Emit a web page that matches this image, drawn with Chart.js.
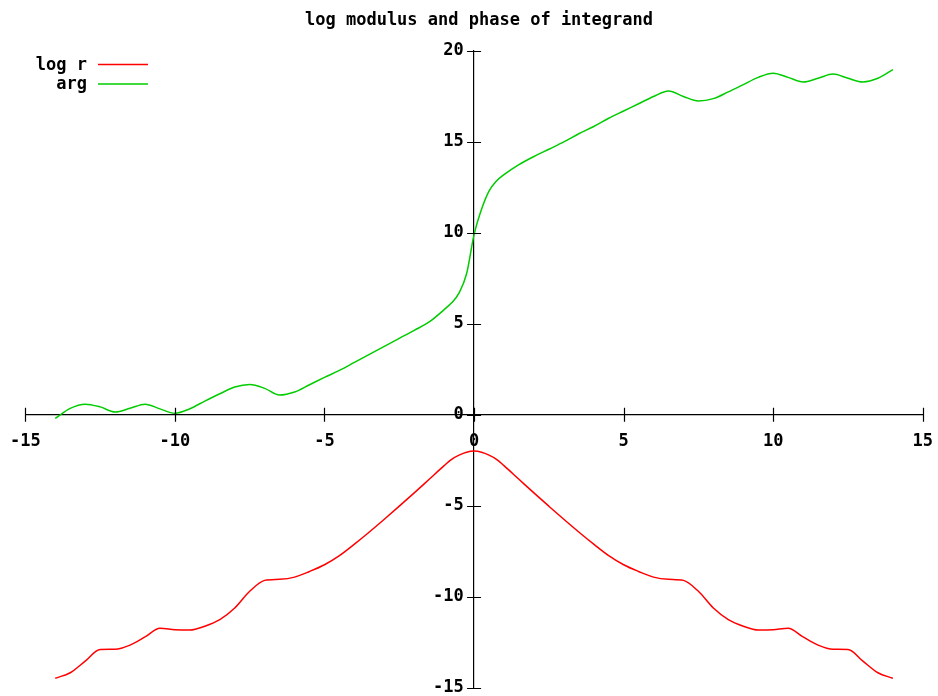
<!DOCTYPE html>
<html>
<head>
<meta charset="utf-8">
<script src="https://cdn.jsdelivr.net/npm/chart.js@4/dist/chart.umd.min.js"></script>
<style>
  html, body { margin: 0; padding: 0; background: #fff; overflow: hidden; }
  #wrap { width: 959px; height: 699px; margin-left: -8px; }
</style>
</head>
<body>
<div id="wrap"><canvas id="chart"></canvas></div>
<script>
// x positions shared by both curves
const xs = [-14, -13.5, -13, -12.5, -12, -11.5, -11, -10.5, -10, -9.5, -9, -8.5, -8, -7.5, -7, -6.5,
  -6, -5.5, -5, -4.5, -4, -3.5, -3, -2.5, -2, -1.5, -1, -0.75, -0.5, -0.25, 0,
  0.25, 0.5, 0.75, 1, 1.5, 2, 2.5, 3, 3.5, 4, 4.5, 5, 5.5, 6, 6.5, 7, 7.5, 8, 8.5,
  9, 9.5, 10, 10.5, 11, 11.5, 12, 12.5, 13, 13.5, 14];

// log r
const logR = [-14.49, -14.19, -13.55, -12.91, -12.9, -12.67, -12.22, -11.74, -11.82, -11.84, -11.63, -11.27, -10.63, -9.71, -9.11, -9.05,
  -8.93, -8.62, -8.25, -7.75, -7.12, -6.45, -5.75, -5.03, -4.3, -3.55, -2.8, -2.45, -2.22, -2.06, -2.0,
  -2.06, -2.22, -2.45, -2.8, -3.55, -4.3, -5.03, -5.75, -6.45, -7.12, -7.75, -8.25, -8.62, -8.93, -9.05, -9.11, -9.71, -10.63, -11.27,
  -11.63, -11.84, -11.82, -11.74, -12.22, -12.67, -12.9, -12.91, -13.55, -14.19, -14.49];

// arg
const argV = [-0.2, 0.35, 0.58, 0.43, 0.15, 0.35, 0.58, 0.32, 0.08, 0.33, 0.75, 1.15, 1.52, 1.66, 1.45, 1.08,
  1.25, 1.65, 2.05, 2.44, 2.88, 3.32, 3.76, 4.2, 4.64, 5.1, 5.78, 6.15, 6.7, 7.75, 9.9,
  11.3, 12.3, 12.85, 13.2, 13.75, 14.2, 14.6, 15.0, 15.45, 15.85, 16.3, 16.7, 17.1, 17.5, 17.8, 17.5, 17.25, 17.38, 17.75,
  18.15, 18.55, 18.78, 18.55, 18.3, 18.5, 18.73, 18.5, 18.3, 18.5, 18.98];

const seriesNames = ['log r', 'arg'];
const seriesColors = ['#ff0000', '#00cc00'];

const FONT = { family: "'DejaVu Sans Mono', 'Liberation Mono', monospace", size: 17, weight: 'bold', lineHeight: 1 };

function pts(ys) {
  return xs.map((x, i) => ({ x: x, y: ys[i] }));
}

// gnuplot style tick crosses and key in the top left corner
const gnuplotBits = {
  id: 'gnuplotBits',
  afterDraw(chart) {
    const ctx = chart.ctx;
    const sx = chart.scales.x, sy = chart.scales.y;
    const x0 = sx.getPixelForValue(0), y0 = sy.getPixelForValue(0);
    ctx.save();
    ctx.strokeStyle = '#000';
    ctx.lineWidth = 1.2;
    ctx.beginPath();
    sx.ticks.forEach(t => {
      const p = Math.round(sx.getPixelForValue(t.value)) + 0.5;
      ctx.moveTo(p, y0 - 7); ctx.lineTo(p, y0 + 7);
    });
    sy.ticks.forEach(t => {
      const p = Math.round(sy.getPixelForValue(t.value)) + 0.5;
      ctx.moveTo(x0 - 7, p); ctx.lineTo(x0 + 7, p);
    });
    ctx.stroke();

    // key: the page is shifted 8px left, so add it back
    ctx.font = 'bold 17px ' + FONT.family;
    ctx.textAlign = 'right';
    ctx.textBaseline = 'middle';
    chart.data.datasets.forEach((ds, i) => {
      const y = 64.5 + i * 19.5;
      ctx.fillStyle = '#000';
      ctx.fillText(ds.label, 95, y + 1);
      ctx.strokeStyle = ds.borderColor;
      ctx.lineWidth = 1.5;
      ctx.beginPath();
      ctx.moveTo(106, y); ctx.lineTo(156, y);
      ctx.stroke();
    });
    ctx.restore();
  }
};

new Chart(document.getElementById('chart'), {
  type: 'line',
  data: {
    datasets: [
      { label: seriesNames[0], data: pts(logR), borderColor: seriesColors[0] },
      { label: seriesNames[1], data: pts(argV), borderColor: seriesColors[1] }
    ]
  },
  options: {
    responsive: true,
    maintainAspectRatio: false,
    animation: false,
    parsing: false,
    layout: { padding: { left: 17, right: 2, top: 0, bottom: 0 } },
    elements: {
      point: { radius: 0 },
      line: { borderWidth: 1.5, cubicInterpolationMode: 'monotone', fill: false }
    },
    plugins: {
      legend: { display: false },
      tooltip: { enabled: false },
      title: {
        display: true,
        text: 'log modulus and phase of integrand',
        color: '#000',
        font: FONT,
        padding: { top: 12, bottom: 22 }
      }
    },
    scales: {
      x: {
        type: 'linear',
        min: -15, max: 15,
        position: { y: 0 },
        grid: { display: true, drawOnChartArea: false, drawTicks: false },
        border: { display: true, color: '#000', width: 1.2 },
        ticks: { stepSize: 5, color: '#000', font: FONT, padding: 18, maxRotation: 0 }
      },
      y: {
        type: 'linear',
        min: -15, max: 20,
        position: { x: 0 },
        grid: { display: true, drawOnChartArea: false, drawTicks: false },
        border: { display: true, color: '#000', width: 1.2 },
        ticks: { stepSize: 5, color: '#000', font: FONT, callback: v => v + ' ' }
      }
    }
  },
  plugins: [gnuplotBits]
});
</script>
</body>
</html>
